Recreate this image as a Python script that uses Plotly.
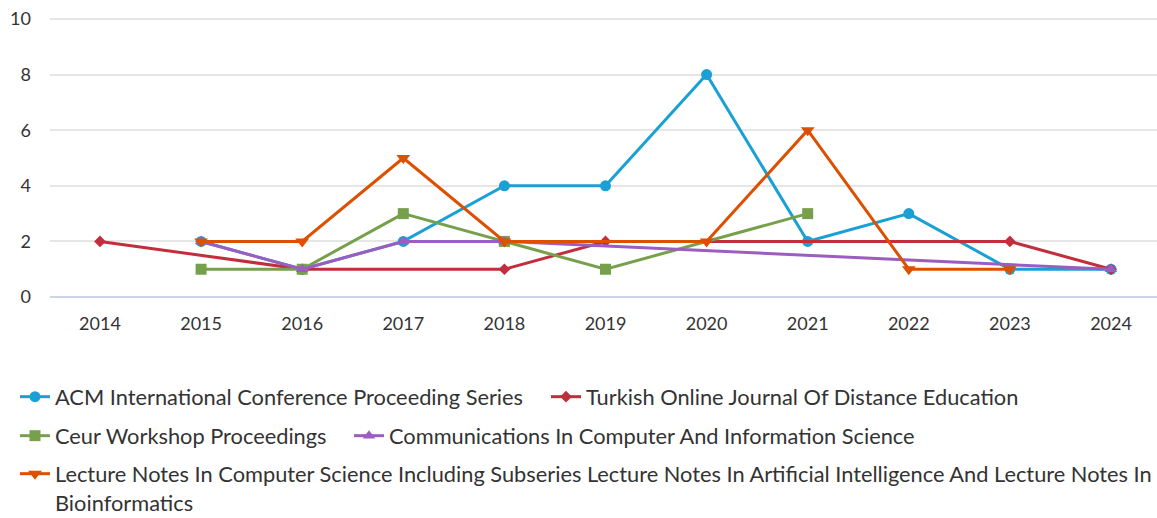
import plotly.graph_objects as go

years = [2014, 2015, 2016, 2017, 2018, 2019, 2020, 2021, 2022, 2023, 2024]

series_names = [
    "ACM International Conference Proceeding Series",
    "Turkish Online Journal Of Distance Education",
    "Ceur Workshop Proceedings",
    "Communications In Computer And Information Science",
    "Lecture Notes In Computer Science Including Subseries Lecture Notes In Artificial Intelligence And Lecture Notes In<br>Bioinformatics",
]

acm = [None, 2, 1, 2, 4, 4, 8, 2, 3, 1, 1]
turkish = [2, None, 1, None, 1, 2, None, None, None, 2, 1]
ceur = [None, 1, 1, 3, 2, 1, None, 3, None, None, None]
communications = [None, 2, 1, 2, 2, None, None, None, None, None, 1]
lecture_notes = [None, 2, 2, 5, 2, None, 2, 6, 1, 1, None]

values = [acm, turkish, ceur, communications, lecture_notes]
colors = ["#1aa0d4", "#c22e3c", "#77a04c", "#9b5dc2", "#dc5000"]
symbols = ["circle", "diamond", "square", "triangle-up", "triangle-down"]
sizes = [11, 9, 11, 11, 12]
legend_ids = ["legend", "legend2", "legend3", "legend4", "legend5"]

fig = go.Figure()
for name, vals, col, sym, sz, lg in zip(series_names, values, colors, symbols, sizes, legend_ids):
    fig.add_trace(go.Scatter(
        x=years, y=vals, name=name, mode="lines+markers",
        connectgaps=True, legend=lg,
        line=dict(color=col, width=3),
        marker=dict(symbol=sym, size=sz, color=col),
    ))

W, H = 1157, 518
legend_font = dict(size=21.8, color="#333333", family="Lato, 'Open Sans', sans-serif")


def leg(xpx, ypx, yanchor="middle"):
    return dict(
        orientation="h", xref="container", yref="container",
        x=xpx / W, y=1 - ypx / H, xanchor="left", yanchor=yanchor,
        font=legend_font, bgcolor="rgba(0,0,0,0)", valign="top",
    )


fig.update_layout(
    width=W, height=H,
    margin=dict(l=50, r=0, t=17, b=219),
    paper_bgcolor="white", plot_bgcolor="white",
    font=dict(family="Lato, 'Open Sans', sans-serif", size=18, color="#333333"),
    showlegend=True,
    legend=leg(15, 397),
    legend2=leg(546, 397),
    legend3=leg(15, 436),
    legend4=leg(349, 436),
    legend5=leg(15, 474 - 21, "top"),
    xaxis=dict(
        range=[2013.5055, 2024.455], tickmode="array", tickvals=years,
        ticktext=[str(y) for y in years],
        showgrid=False, zeroline=False, showline=False, ticks="",
        ticklabelstandoff=12,
        tickfont=dict(size=18, color="#333333"),
    ),
    yaxis=dict(
        range=[-0.07, 10.07], tickvals=[0, 2, 4, 6, 8, 10],
        showgrid=True, gridcolor="#e6e6e6", gridwidth=2,
        zeroline=True, zerolinecolor="#ccd6eb", zerolinewidth=2,
        ticks="", ticklabelstandoff=18,
        tickfont=dict(size=18, color="#333333"),
    ),
)

fig.write_html(
    "out.html",
    config={"displayModeBar": False},
    post_script="document.body.style.margin='0';document.body.style.overflow='hidden';",
)
